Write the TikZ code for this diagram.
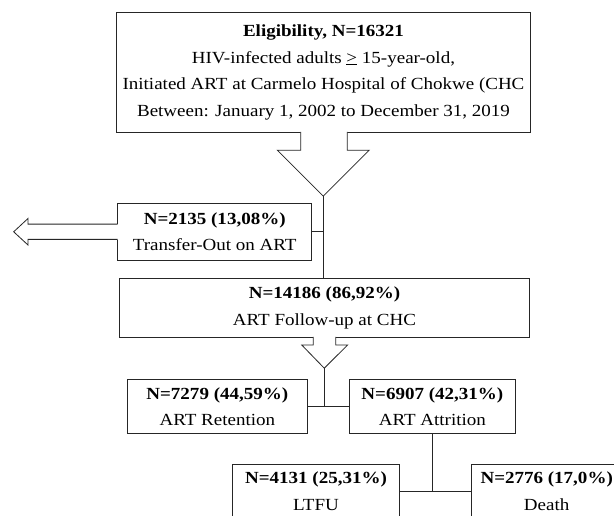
\documentclass[tikz,border=0pt]{standalone}
\usepackage{fontspec}
\setmainfont{Liberation Serif}[FakeStretch=1.12]
\begin{document}
\begin{tikzpicture}[x=1pt,y=-1pt,
  every path/.style={line width=0.8pt, draw=black!85},
  boxnode/.style={draw=black!85, line width=0.8pt, fill=white, inner sep=0pt, align=center,
    font=\fontsize{17}{26.7}\selectfont},
  linkline/.style={draw=black!85, line width=0.8pt}]
\useasboundingbox (0,0) rectangle (614,515);
\fill[white] (0,0) rectangle (614,515);

% boxes
\node[boxnode, minimum width=415pt, minimum height=120pt] (top) at (323.5,72)
  {\textbf{Eligibility, N=16321}\\HIV-infected adults \underline{>} 15-year-old,\\Initiated ART at Carmelo Hospital of Chokwe (CHC\\Between: January 1, 2002 to December 31, 2019};
\node[boxnode, minimum width=194pt, minimum height=57pt] (transfer) at (214.6,231.5)
  {\textbf{N=2135 (13,08\%)}\\Transfer-Out on ART};
\node[boxnode, minimum width=411pt, minimum height=58.5pt] (follow) at (324.5,307.7)
  {\textbf{N=14186 (86,92\%)}\\ART Follow-up at CHC};
\node[boxnode, minimum width=181pt, minimum height=54.5pt] (ret) at (217.2,406.7)
  {\textbf{N=7279 (44,59\%)}\\ART Retention};
\node[boxnode, minimum width=167pt, minimum height=54.5pt] (att) at (432.5,406.7)
  {\textbf{N=6907 (42,31\%)}\\ART Attrition};
\node[boxnode, minimum width=166.6pt, minimum height=54.5pt] (ltfu) at (316,491.75)
  {\textbf{N=4131 (25,31\%)}\\LTFU};
\node[boxnode, minimum width=150pt, minimum height=54.5pt] (death) at (547,491.75)
  {\textbf{N=2776 (17,0\%)}\\Death};

% block arrow 1 (down from top box)
\coordinate (tip1) at (323.3,196);
\fill[white] (301.1,130) rectangle (346.9,133);
\draw[linkline, fill=white] (300.7,131.7) -- (300.7,150) -- (277.3,150) -- (tip1) -- (369.3,150) -- (347.3,150) -- (347.3,131.7);
\draw[linkline] (tip1) -- (tip1 |- follow.north);
\draw[linkline] (tip1 |- transfer.east) -- (transfer.east);

% block arrow 2 (left from transfer box)
\coordinate (tip2) at (13.3,231.7);
\fill[white] (116,224.4) rectangle (119,238.9);
\draw[linkline, fill=white] (117.5,224) -- (27.7,224) -- (27.7,218.3) -- (tip2) -- (27.7,245) -- (27.7,239.3) -- (117.5,239.3);

% block arrow 3 (down from follow-up box)
\coordinate (tip3) at (324.3,368.3);
\fill[white] (313.7,335.5) rectangle (335.3,338.5);
\draw[linkline, fill=white] (313.3,337) -- (313.3,345) -- (301.7,345) -- (tip3) -- (347.7,345) -- (335.7,345) -- (335.7,337);
\draw[linkline] (tip3) -- (tip3 |- ret.east);
\draw[linkline] (ret.east) -- (att.west);

% attrition split
\draw[linkline] (att.south) -- (att.south |- ltfu.east);
\draw[linkline] (ltfu.east) -- (death.west);
\end{tikzpicture}
\end{document}
